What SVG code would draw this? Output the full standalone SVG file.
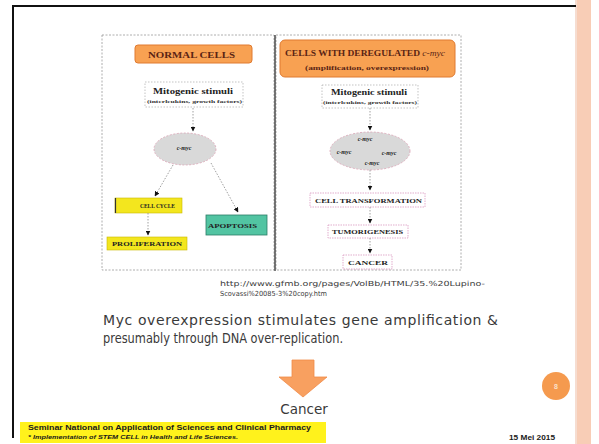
<svg xmlns="http://www.w3.org/2000/svg" width="599" height="444" viewBox="0 0 599 444">
<defs>
<marker id="ah" viewBox="0 0 10 10" refX="9" refY="5" markerWidth="5" markerHeight="5" markerUnits="userSpaceOnUse" orient="auto"><path d="M0,0 L10,5 L0,10 z" fill="#111"/></marker>
<style>
.frame{fill:none;stroke:#111;stroke-width:2}
.panel{fill:#fff;stroke:#999;stroke-width:0.8;stroke-dasharray:2 1.5}
.hdr{fill:#f8a152;stroke:#e07a30;stroke-width:1}
.hdrt{font-family:"Liberation Serif",serif;font-weight:bold;fill:#5a2414}
.mito{fill:#fff;stroke:#aaa;stroke-width:0.7;stroke-dasharray:1.5 1.5}
.st{font-family:"Liberation Serif",serif;font-weight:bold;fill:#222}
.sm{font-family:"Liberation Serif",serif;font-weight:bold;fill:#333;font-size:5px}
.ell{fill:#d9d9d9;stroke:#d9a2b4;stroke-width:0.8;stroke-dasharray:2 1.5}
.myc{font-family:"Liberation Serif",serif;font-weight:bold;font-style:italic;font-size:6px;fill:#222;text-anchor:middle}
.yel{fill:#f3e61e;stroke:#c9b800;stroke-width:0.6}
.teal{fill:#52c4a2;stroke:#2c7d66;stroke-width:0.8}
.pink{fill:#fff;stroke:#d58ab8;stroke-width:0.7;stroke-dasharray:1.5 1}
.bt{font-family:"Liberation Serif",serif;font-weight:bold;font-size:6.5px;fill:#222}
.conn{stroke:#888;stroke-width:0.8;stroke-dasharray:1.5 1.5;fill:none;marker-end:url(#ah)}
.body{font-family:"DejaVu Sans","Liberation Sans",sans-serif;fill:#3a3a3a}
.foot{font-family:"Liberation Sans",Arial,sans-serif;font-weight:bold;fill:#1a1a1a}
</style>
</defs>
<rect width="599" height="444" fill="#fff"/>
<!-- slide frame -->
<rect x="577" y="0" width="14" height="444" fill="#f8cdb6"/>
<line x1="576" y1="0" x2="576" y2="444" stroke="#e9a98a" stroke-width="0.8"/>
<path class="frame" d="M13,438 L13,6 L576,6"/>
<!-- figure panels -->
<g id="left-panel"><rect class="panel" x="102" y="35" width="172" height="235"/></g>
<g id="right-panel"><rect class="panel" x="276" y="35" width="185" height="235"/></g>
<line x1="275" y1="35" x2="275" y2="271" stroke="#333" stroke-width="1.3"/>
<!-- left nodes -->
<g id="normal-cells"><rect class="hdr" x="135" y="45" width="117" height="18" rx="3"/><text class="hdrt" x="148" y="57.5" font-size="9" textLength="87" lengthAdjust="spacingAndGlyphs">NORMAL CELLS</text></g>
<g id="mito-left"><rect class="mito" x="145" y="82" width="98" height="25"/><text class="st" x="153" y="94" font-size="8" textLength="80" lengthAdjust="spacingAndGlyphs">Mitogenic stimuli</text><text class="sm" x="147" y="102.5" textLength="95" lengthAdjust="spacingAndGlyphs">(interleukins, growth factors)</text></g>
<g id="cmyc-left"><ellipse class="ell" cx="185" cy="149" rx="31" ry="16"/><text class="myc" x="184" y="150">c-myc</text></g>
<g id="cell-cycle"><rect class="yel" x="115" y="198" width="67" height="15"/><line x1="115.5" y1="198" x2="115.5" y2="213" stroke="#333" stroke-width="1.2"/><text class="bt" x="140" y="208" textLength="35" lengthAdjust="spacingAndGlyphs">CELL CYCLE</text></g>
<g id="proliferation"><rect class="yel" x="107" y="237" width="80" height="13"/><text class="bt" x="112" y="246" textLength="70" lengthAdjust="spacingAndGlyphs">PROLIFERATION</text></g>
<g id="apoptosis"><rect class="teal" x="206" y="215" width="61" height="20"/><text class="bt" x="208" y="228" textLength="49" lengthAdjust="spacingAndGlyphs">APOPTOSIS</text></g>
<!-- right nodes -->
<g id="dereg-cells"><rect class="hdr" x="280" y="40" width="175" height="37" rx="5"/><text class="hdrt" x="285" y="56" font-size="8" textLength="160" lengthAdjust="spacingAndGlyphs">CELLS WITH DEREGULATED <tspan font-style="italic" font-weight="normal">c-myc</tspan></text><text class="hdrt" x="305" y="70" font-size="7" textLength="124" lengthAdjust="spacingAndGlyphs">(amplification, overexpression)</text></g>
<g id="mito-right"><rect class="mito" x="322" y="85" width="96" height="23"/><text class="st" x="331" y="95" font-size="7.5" textLength="76" lengthAdjust="spacingAndGlyphs">Mitogenic stimuli</text><text class="sm" x="323" y="103.5" textLength="94" lengthAdjust="spacingAndGlyphs">(interleukins, growth factors)</text></g>
<g id="cmyc-right"><ellipse class="ell" cx="370" cy="151" rx="40" ry="19"/><text class="myc" x="365" y="141">c-myc</text><text class="myc" x="344" y="154">c-myc</text><text class="myc" x="389" y="155">c-myc</text><text class="myc" x="372" y="165">c-myc</text></g>
<g id="cell-transformation"><rect class="pink" x="310" y="193" width="115" height="14"/><text class="bt" x="315" y="203" textLength="107" lengthAdjust="spacingAndGlyphs">CELL TRANSFORMATION</text></g>
<g id="tumorigenesis"><rect class="pink" x="328" y="225" width="80" height="13"/><text class="bt" x="332" y="234" textLength="71" lengthAdjust="spacingAndGlyphs">TUMORIGENESIS</text></g>
<g id="cancer-box"><rect class="pink" x="343" y="255" width="49" height="14"/><text class="bt" x="348" y="265" textLength="40" lengthAdjust="spacingAndGlyphs">CANCER</text></g>
<!-- connectors -->
<g id="connectors">
<line class="conn" x1="193" y1="108" x2="193" y2="131"/>
<line class="conn" x1="173" y1="165" x2="155" y2="196"/>
<line class="conn" x1="211" y1="163" x2="238" y2="212"/>
<line class="conn" x1="148" y1="213" x2="148" y2="235"/>
<line class="conn" x1="370" y1="108" x2="370" y2="130"/>
<line class="conn" x1="370" y1="170" x2="370" y2="190"/>
<line class="conn" x1="370" y1="207" x2="370" y2="223"/>
<line class="conn" x1="370" y1="238" x2="370" y2="253"/>
</g>
<!-- url -->
<text class="body" x="220" y="286" font-size="7" fill="#444" textLength="265" lengthAdjust="spacingAndGlyphs">http://www.gfmb.org/pages/VolBb/HTML/35.%20Lupino-</text>
<text class="body" x="220" y="296" font-size="7" fill="#444" textLength="107" lengthAdjust="spacingAndGlyphs">Scovassi%20085-3%20copy.htm</text>
<!-- main text -->
<text class="body" x="103" y="325" font-size="14" textLength="395" lengthAdjust="spacing">Myc overexpression stimulates gene amplification  &amp;</text>
<text class="body" x="103" y="343" font-size="14" textLength="240" lengthAdjust="spacingAndGlyphs">presumably through DNA over-replication.</text>
<!-- big arrow -->
<g id="big-arrow"><path d="M292,360 L314,360 L314,377 L327,377 L303,397 L279,377 L292,377 z" fill="#f8a060" stroke="#f08a48" stroke-width="0.8"/></g>
<g id="cancer-label"><text class="body" x="304" y="414" font-size="13.5" text-anchor="middle">Cancer</text></g>
<!-- footer -->
<g id="footer">
<rect x="20" y="422" width="306" height="21" fill="#fff21c"/>
<text class="foot" x="28" y="430" font-size="7" textLength="283" lengthAdjust="spacingAndGlyphs">Seminar National on Application of Sciences  and Clinical Pharmacy</text>
<text class="foot" x="28" y="438.5" font-size="6" font-style="italic" textLength="210" lengthAdjust="spacingAndGlyphs">* Implementation of STEM CELL in Health and Life Sciences.</text>
<text class="foot" x="509" y="440" font-size="7.5" textLength="46" lengthAdjust="spacingAndGlyphs">15 Mei 2015</text>
</g>
<g id="page-num"><circle cx="556" cy="386" r="14" fill="#f59a4e"/><text x="556" y="389" font-family="Liberation Sans,sans-serif" font-size="7" font-weight="bold" fill="#fbe0c8" text-anchor="middle">8</text></g>
</svg>
